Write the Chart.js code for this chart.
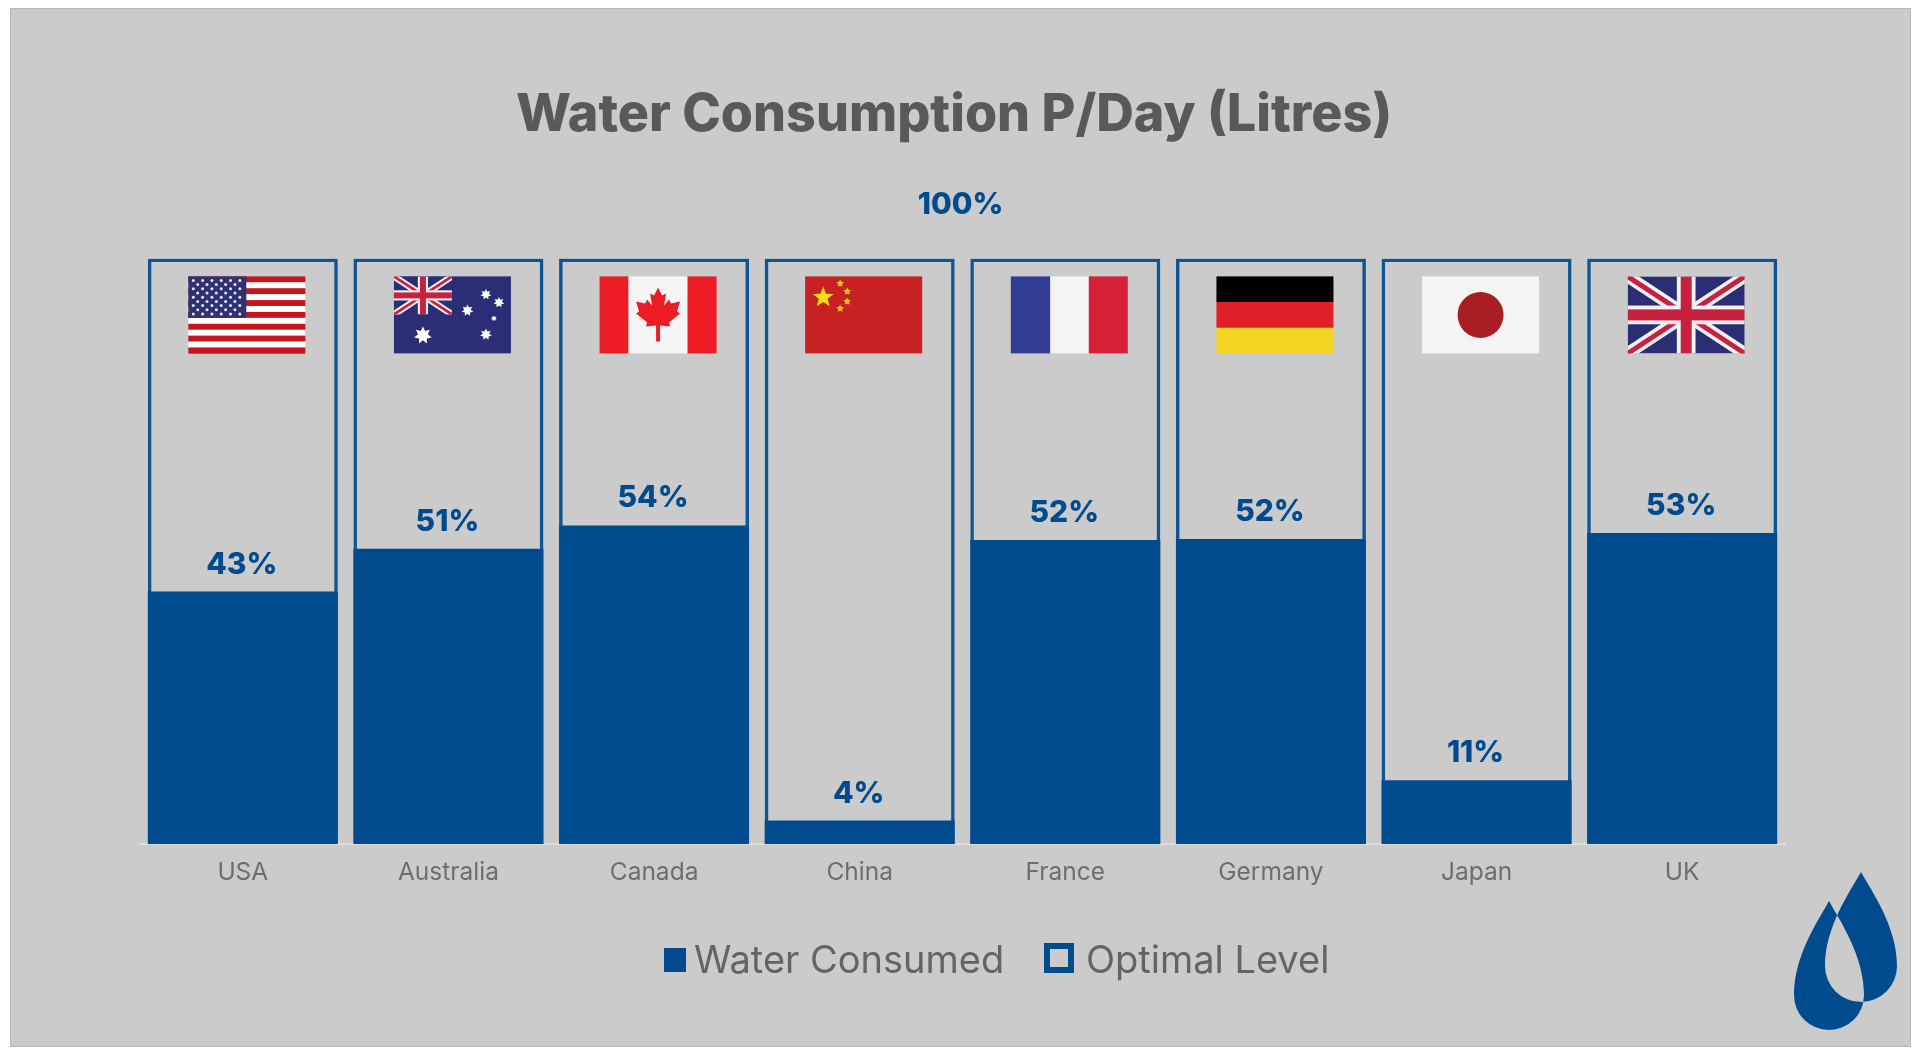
<!DOCTYPE html>
<html>
<head>
<meta charset="utf-8">
<title>Water Consumption P/Day (Litres)</title>
<script src="https://cdn.jsdelivr.net/npm/chart.js@4/dist/chart.umd.min.js"></script>
<style>
    html, body { margin: 0; background: #fff; }
    #panel { position: absolute; left: 10px; top: 8px; width: 1899px; height: 1037px; background: #cbcbcb; border: 1px solid #b9b9b9; }
    #chart { position: absolute; left: 0; top: 0; }
</style>
</head>
<body>
<div id="panel"></div>
<canvas id="chart" width="1920" height="1056"></canvas>
<script>
const titleText = 'Water Consumption P/Day (Litres)';
const categories = ['USA', 'Australia', 'Canada', 'China', 'France', 'Germany', 'Japan', 'UK'];
const waterConsumed = [43.1, 50.4, 54.4, 4, 51.9, 52.1, 10.9, 53.1];
const optimalLevel = [100, 100, 100, 100, 100, 100, 100, 100];
const consumedLabels = ['43%', '51%', '54%', '4%', '52%', '52%', '11%', '53%'];
const optimalLabel = '100%';
const seriesNames = ['Water Consumed', 'Optimal Level'];

const BLUE = '#004b8d';
const FRAME = '#0f5594';
const NAVY = '#2b2e74';
const FONT = 'Inter, sans-serif';

function star(ctx, cx, cy, r, points, inner, color) {
    ctx.fillStyle = color;
    ctx.beginPath();
    for (let i = 0; i < points * 2; i++) {
        const rad = i % 2 ? r * inner : r;
        const a = -Math.PI / 2 + i * Math.PI / points;
        ctx.lineTo(cx + rad * Math.cos(a), cy + rad * Math.sin(a));
    }
    ctx.closePath();
    ctx.fill();
}

function stripesV(ctx, w, h, cols) {
    let x = 0;
    cols.forEach(c => { ctx.fillStyle = c[0]; ctx.fillRect(x, 0, c[1], h); x += c[1]; });
}

function unionJack(ctx, w, h, t) {
    ctx.save();
    ctx.beginPath();
    ctx.rect(0, 0, w, h);
    ctx.clip();
    ctx.fillStyle = NAVY;
    ctx.fillRect(0, 0, w, h);
    ctx.lineCap = 'butt';
    const diag = (color, width) => {
        ctx.strokeStyle = color;
        ctx.lineWidth = width;
        ctx.beginPath();
        ctx.moveTo(0, 0); ctx.lineTo(w, h);
        ctx.moveTo(w, 0); ctx.lineTo(0, h);
        ctx.stroke();
    };
    diag('#f2f2f2', t * 1.1);
    diag('#c8203f', t * 0.45);
    ctx.fillStyle = '#f2f2f2';
    ctx.fillRect(w / 2 - t * 0.85, 0, t * 1.7, h);
    ctx.fillRect(0, h / 2 - t * 0.85, w, t * 1.7);
    ctx.fillStyle = '#c8203f';
    ctx.fillRect(w / 2 - t * 0.5, 0, t, h);
    ctx.fillRect(0, h / 2 - t * 0.5, w, t);
    ctx.restore();
}

const flagDrawers = {
    USA(ctx, w, h) {
        const s = h / 13;
        for (let i = 0; i < 13; i++) {
            ctx.fillStyle = i % 2 ? '#ffffff' : '#c4161c';
            ctx.fillRect(0, i * s, w, s + 0.3);
        }
        ctx.fillStyle = '#2f3272';
        ctx.fillRect(0, 0, 58, s * 7);
        ctx.fillStyle = '#e8e8ee';
        for (let r = 0; r < 9; r++) {
            const n = r % 2 ? 5 : 6;
            for (let c = 0; c < n; c++) {
                ctx.beginPath();
                ctx.arc(5 + (r % 2 ? 4.4 : 0) + c * 9.3, 4 + r * 4.2, 1.5, 0, Math.PI * 2);
                ctx.fill();
            }
        }
    },
    Australia(ctx, w, h) {
        ctx.fillStyle = NAVY;
        ctx.fillRect(0, 0, w, h);
        unionJack(ctx, 58, 38, 6);
        [[92, 18, 5.5], [105, 26, 5.5], [73.5, 34, 6], [100, 42, 3], [92, 58, 6]].forEach(p => {
            star(ctx, p[0], p[1], p[2], 7, 0.55, '#ffffff');
        });
        star(ctx, 29, 59, 9, 7, 0.55, '#ffffff');
    },
    Canada(ctx, w, h) {
        stripesV(ctx, w, h, [['#ed1c24', 29], ['#f5f5f5', 59], ['#ed1c24', 29]]);
        const leaf = [[0, 0], [4, 8], [8, 6], [6, 18], [11, 12], [13, 16], [22, 14], [19, 24], [22, 26], [11, 35], [12, 39], [2, 38], [2, 54], [-2, 54], [-2, 38], [-12, 39], [-11, 35], [-22, 26], [-19, 24], [-22, 14], [-13, 16], [-11, 12], [-6, 18], [-8, 6], [-4, 8]];
        ctx.fillStyle = '#ed1c24';
        ctx.beginPath();
        leaf.forEach(p => ctx.lineTo(58.5 + p[0], 11 + p[1]));
        ctx.closePath();
        ctx.fill();
    },
    China(ctx, w, h) {
        ctx.fillStyle = '#c82124';
        ctx.fillRect(0, 0, w, h);
        star(ctx, 18, 21, 11, 5, 0.42, '#fcdc16');
        [[35, 7], [42, 15], [42, 25], [35, 32]].forEach(p => star(ctx, p[0], p[1], 4, 5, 0.5, '#f8c81c'));
    },
    France(ctx, w, h) {
        stripesV(ctx, w, h, [['#323e93', 39.5], ['#f4f4f4', 38.5], ['#d71f37', 39]]);
    },
    Germany(ctx, w, h) {
        ['#000000', '#e02026', '#f5d523'].forEach((c, i) => {
            ctx.fillStyle = c;
            ctx.fillRect(0, i * h / 3, w, h / 3 + 0.3);
        });
    },
    Japan(ctx, w, h) {
        ctx.fillStyle = '#f4f4f4';
        ctx.fillRect(0, 0, w, h);
        ctx.fillStyle = '#a81e22';
        ctx.beginPath();
        ctx.arc(w / 2, h / 2, 23, 0, Math.PI * 2);
        ctx.fill();
    },
    UK(ctx, w, h) {
        unionJack(ctx, w, h, 11);
    }
};

function drawDrop(ctx, tipX, tipY, w, h) {
    const r = w / 2;
    const cy = tipY + h - r;
    ctx.moveTo(tipX, tipY);
    ctx.bezierCurveTo(tipX + r * 0.3, tipY + h * 0.15, tipX + r, tipY + h * 0.42, tipX + r, cy);
    ctx.arc(tipX, cy, r, 0, Math.PI);
    ctx.bezierCurveTo(tipX - r, tipY + h * 0.42, tipX - r * 0.3, tipY + h * 0.15, tipX, tipY);
    ctx.closePath();
}

const decorations = {
    id: 'decorations',
    afterDatasetsDraw(chart) {
        const { ctx, chartArea } = chart;
        const x = chart.scales.x;
        const y = chart.scales.y;
        ctx.save();

        // flags sit near the top of each frame
        categories.forEach((name, i) => {
            ctx.save();
            ctx.translate(x.getPixelForValue(i) - 54.5, y.getPixelForValue(optimalLevel[i]) + 18);
            flagDrawers[name](ctx, 117, 77);
            ctx.restore();
        });

        // value labels
        ctx.fillStyle = BLUE;
        ctx.font = '800 30px ' + FONT;
        ctx.textAlign = 'center';
        ctx.textBaseline = 'middle';
        consumedLabels.forEach((label, i) => {
            ctx.fillText(label, x.getPixelForValue(i) - 1, y.getPixelForValue(waterConsumed[i]) - 27);
        });
        ctx.fillText(optimalLabel, (chartArea.left + chartArea.right) / 2 - 2, chartArea.top - 53);

        // legend
        ctx.textAlign = 'left';
        ctx.textBaseline = 'alphabetic';
        ctx.font = '400 38px ' + FONT;
        ctx.fillStyle = BLUE;
        ctx.fillRect(664, 948, 22, 24);
        ctx.fillStyle = '#636466';
        ctx.fillText(seriesNames[0], 694, 973);
        ctx.strokeStyle = BLUE;
        ctx.lineWidth = 6;
        ctx.strokeRect(1047, 946, 24, 24);
        ctx.fillText(seriesNames[1], 1086, 973);

        // logo
        ctx.fillStyle = BLUE;
        ctx.beginPath();
        drawDrop(ctx, 1861, 872, 72, 130);
        drawDrop(ctx, 1829, 901, 70, 129);
        ctx.fill('evenodd');
        ctx.restore();
    }
};

new Chart(document.getElementById('chart'), {
    type: 'bar',
    data: {
        labels: categories,
        datasets: [
            {
                label: seriesNames[0],
                data: waterConsumed,
                backgroundColor: BLUE,
                order: 1,
            },
            {
                label: seriesNames[1],
                data: optimalLevel,
                backgroundColor: 'rgba(0, 0, 0, 0)',
                borderColor: FRAME,
                borderWidth: 3.5,
                order: 2,
            },
        ]
    },
    plugins: [decorations],
    options: {
        responsive: false,
        animation: false,
        datasets: {
            bar: {
                grouped: false,
                categoryPercentage: 1,
                barPercentage: 0.924,
            }
        },
        layout: {
            // left padding + hidden y axis width puts the title centre left of the plot centre
            padding: { left: 123, right: 135, top: 0, bottom: 152 },
        },
        plugins: {
            legend: { display: false },
            tooltip: { enabled: false },
            title: {
                display: true,
                text: titleText,
                color: '#58595b',
                font: { family: FONT, size: 52, weight: '800' },
                padding: { top: 84, bottom: 112 },
            },
        },
        scales: {
            x: {
                grid: { display: false, drawTicks: false },
                border: { display: true, color: '#dddddd', width: 2 },
                ticks: {
                    color: '#6d6e71',
                    font: { family: FONT, size: 24.5 },
                    padding: 14,
                    maxRotation: 0,
                    autoSkip: false,
                },
                afterFit(scale) { scale.height = 60; },
            },
            y: {
                min: 0,
                max: 100,
                grid: { display: false, drawTicks: false },
                border: { display: false },
                ticks: { display: false },
                afterFit(scale) { scale.width = 17; },
            },
        },
    },
});
</script>
</body>
</html>
